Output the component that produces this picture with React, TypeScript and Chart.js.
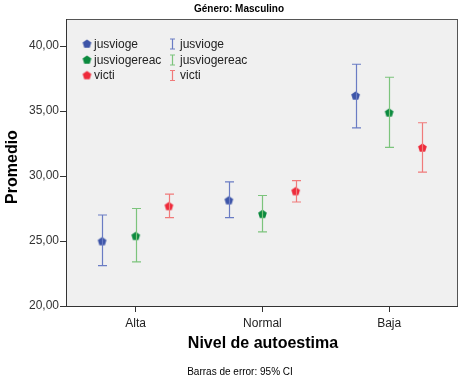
import React, { useEffect, useRef } from "react";
import { Chart, registerables } from "chart.js";

Chart.register(...registerables);

const categories = ["Alta", "Normal", "Baja"];
const seriesNames = ["jusvioge", "jusviogereac", "victi"];

const jusviogeMean = [25.0, 28.15, 36.2];
const jusviogeLow = [23.1, 26.8, 33.7];
const jusviogeHigh = [27.0, 29.55, 38.6];

const jusviogereacMean = [25.4, 27.1, 34.9];
const jusviogereacLow = [23.4, 25.7, 32.2];
const jusviogereacHigh = [27.5, 28.5, 37.6];

const victiMean = [27.7, 28.85, 32.2];
const victiLow = [26.8, 28.0, 30.3];
const victiHigh = [28.6, 29.65, 34.1];

const yTicks = [20, 25, 30, 35, 40];

const markerColors = ["#3d55a8", "#0b8a3e", "#ee2a3a"];
const barColors = ["#6a7cc4", "#7cc47c", "#f07a7a"];
const offsets = [-0.265, 0, 0.262];

const means = [jusviogeMean, jusviogereacMean, victiMean];
const lows = [jusviogeLow, jusviogereacLow, victiLow];
const highs = [jusviogeHigh, jusviogereacHigh, victiHigh];

const FONT = "'Liberation Sans', Arial, sans-serif";

function pentagon(color: string): HTMLCanvasElement {
  const c = document.createElement("canvas");
  c.width = 11;
  c.height = 11;
  const ctx = c.getContext("2d")!;
  ctx.fillStyle = color;
  ctx.beginPath();
  const r = 4.6;
  for (let i = 0; i < 5; i++) {
    const a = -Math.PI / 2 + (i * 2 * Math.PI) / 5;
    const x = 5.5 + r * Math.cos(a);
    const y = 6 + r * Math.sin(a);
    if (i === 0) ctx.moveTo(x, y);
    else ctx.lineTo(x, y);
  }
  ctx.closePath();
  ctx.fill();
  return c;
}

export default function App() {
  const ref = useRef<HTMLCanvasElement>(null);

  useEffect(() => {
    document.body.style.margin = "0";
    const canvas = ref.current!;
    const markers = markerColors.map(pentagon);

    const decor = {
      id: "decor",
      beforeDraw(chart: any) {
        const { ctx, chartArea: a } = chart;
        ctx.save();
        ctx.fillStyle = "#ffffff";
        ctx.fillRect(0, 0, chart.width, chart.height);
        ctx.fillStyle = "#f0f0f0";
        ctx.fillRect(a.left, a.top, a.right - a.left, a.bottom - a.top);
        ctx.restore();
      },
      afterDatasetsDraw(chart: any) {
        const { ctx, scales } = chart;
        const xs = scales.x;
        const ys = scales.y;
        ctx.save();
        ctx.lineWidth = 1.2;
        for (let s = 0; s < 3; s++) {
          ctx.strokeStyle = barColors[s];
          for (let i = 0; i < categories.length; i++) {
            const x = Math.round(xs.getPixelForValue(i + offsets[s])) + 0.5;
            const yl = ys.getPixelForValue(lows[s][i]);
            const yh = ys.getPixelForValue(highs[s][i]);
            ctx.beginPath();
            ctx.moveTo(x, yh);
            ctx.lineTo(x, yl);
            ctx.moveTo(x - 4.5, yh);
            ctx.lineTo(x + 4.5, yh);
            ctx.moveTo(x - 4.5, yl);
            ctx.lineTo(x + 4.5, yl);
            ctx.stroke();
          }
        }
        ctx.restore();
      },
      afterDraw(chart: any) {
        const { ctx, chartArea: a } = chart;
        ctx.save();
        // plot border
        ctx.strokeStyle = "#555555";
        ctx.lineWidth = 1;
        ctx.strokeRect(a.left + 0.5, a.top + 0.5, a.right - a.left - 1, a.bottom - a.top);
        ctx.strokeStyle = "#333333";
        ctx.beginPath();
        ctx.moveTo(a.left + 0.5, a.top);
        ctx.lineTo(a.left + 0.5, a.bottom + 0.5);
        ctx.lineTo(a.right, a.bottom + 0.5);
        ctx.stroke();

        // legend
        const rows = [44, 60, 75.5];
        ctx.font = `12px ${FONT}`;
        ctx.textBaseline = "middle";
        ctx.textAlign = "left";
        for (let s = 0; s < 3; s++) {
          const y = rows[s];
          ctx.drawImage(markers[s], 81.5, y - 6);
          ctx.fillStyle = "#222222";
          ctx.fillText(seriesNames[s], 94, y + 0.5);
          ctx.strokeStyle = barColors[s];
          ctx.lineWidth = 1.2;
          const x = 172.5;
          ctx.beginPath();
          ctx.moveTo(x, y - 5);
          ctx.lineTo(x, y + 5);
          ctx.moveTo(x - 2.5, y - 5);
          ctx.lineTo(x + 2.5, y - 5);
          ctx.moveTo(x - 2.5, y + 5);
          ctx.lineTo(x + 2.5, y + 5);
          ctx.stroke();
          ctx.fillText(seriesNames[s], 180, y + 0.5);
        }

        // titles
        ctx.fillStyle = "#000000";
        ctx.textAlign = "center";
        ctx.font = `bold 10px ${FONT}`;
        ctx.fillText("Género: Masculino", 239, 9);
        ctx.font = `bold 16px ${FONT}`;
        ctx.fillText("Nivel de autoestima", 263, 344);
        ctx.font = `10px ${FONT}`;
        ctx.fillText("Barras de error: 95% CI", 240, 372);
        ctx.save();
        ctx.translate(13, 167);
        ctx.rotate(-Math.PI / 2);
        ctx.font = `bold 16px ${FONT}`;
        ctx.fillText("Promedio", 0, 0);
        ctx.restore();
        ctx.restore();
      },
    };

    const datasets = [0, 1, 2].map((s) => ({
      label: seriesNames[s],
      data: categories.map((_, i) => ({ x: i + offsets[s], y: means[s][i] })),
      pointStyle: markers[s] as any,
      pointRadius: 5,
      pointHoverRadius: 5,
      showLine: false,
    }));

    const chart = new Chart(canvas, {
      type: "scatter",
      data: { datasets },
      plugins: [decor],
      options: {
        responsive: false,
        animation: false,
        events: [],
        layout: { padding: { top: 19, right: 5, left: 0, bottom: 0 } },
        plugins: { legend: { display: false }, tooltip: { enabled: false } },
        scales: {
          x: {
            type: "linear",
            min: -0.55,
            max: 2.543,
            afterBuildTicks(scale: any) {
              scale.ticks = categories.map((_, i) => ({ value: i }));
            },
            afterFit(scale: any) {
              scale.height = 76;
            },
            border: { display: false },
            grid: {
              drawOnChartArea: false,
              drawTicks: true,
              tickLength: 6,
              color: "#333333",
            },
            ticks: {
              autoSkip: false,
              maxRotation: 0,
              padding: 4,
              color: "#222222",
              font: { family: FONT, size: 12 },
              callback: (v: any) => categories[Math.round(v)] ?? "",
            },
          },
          y: {
            min: 20,
            max: 42.08,
            afterBuildTicks(scale: any) {
              scale.ticks = yTicks.map((v) => ({ value: v }));
            },
            afterFit(scale: any) {
              scale.width = 66;
            },
            border: { display: false },
            grid: {
              drawOnChartArea: false,
              drawTicks: true,
              tickLength: 6,
              color: "#333333",
            },
            ticks: {
              padding: 1,
              color: "#333333",
              font: { family: FONT, size: 12 },
              callback: (v: any) => Number(v).toFixed(2).replace(".", ","),
            },
          },
        },
      },
    });
    return () => chart.destroy();
  }, []);

  return <canvas ref={ref} width={464} height={382} style={{ display: "block" }} />;
}
